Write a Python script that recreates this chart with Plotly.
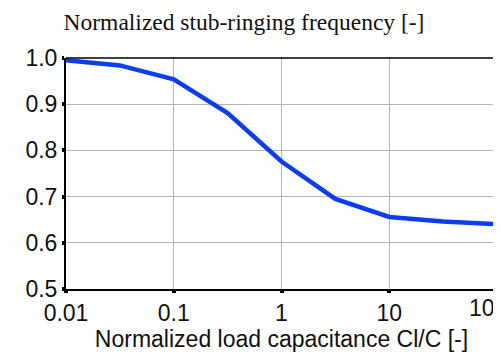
import plotly.graph_objects as go

x_vals = [0.01, 0.0316, 0.1, 0.316, 1, 3.16, 10, 31.6, 100]
y_vals = [0.995, 0.984, 0.954, 0.881, 0.776, 0.695, 0.656, 0.646, 0.640]
x_ticks = [0.01, 0.1, 1, 10, 100]
x_ticktext = ["0.01", "0.1", "1", "10", ""]
last_tick_label = "100"
y_ticks = [0.5, 0.6, 0.7, 0.8, 0.9, 1.0]

fig = go.Figure()
fig.add_trace(go.Scatter(x=x_vals, y=y_vals, mode="lines",
                         line=dict(color="#0a3ef0", width=4.5), showlegend=False))

font_sans = "Liberation Sans"
fig.update_layout(
    width=501, height=355,
    margin=dict(l=58, r=12, t=50, b=74),
    paper_bgcolor="white", plot_bgcolor="white",
    title=dict(text="Normalized stub-ringing frequency [-]",
               font=dict(family="Liberation Serif", size=23.5, color="#111"),
               x=236 / 501, xref="container", xanchor="center",
               y=1 - 14 / 355, yref="container", yanchor="middle"),
    xaxis=dict(type="log", range=[-2, 2], tickvals=x_ticks, ticktext=x_ticktext,
               automargin=False,
               showgrid=True, gridcolor="#b4b4b4", gridwidth=1,
               showline=True, linecolor="black", linewidth=2,
               ticks="outside", ticklen=2, tickwidth=4, tickcolor="black",
               tickfont=dict(family=font_sans, size=23, color="#111"),
               title=dict(text="Normalized load capacitance Cl/C [-]",
                          font=dict(family=font_sans, size=23, color="#111"), standoff=6),
               zeroline=False),
    yaxis=dict(range=[0.5, 1.0], tickvals=y_ticks, tickformat=".1f",
               automargin=False,
               showgrid=True, gridcolor="#b4b4b4", gridwidth=1,
               showline=True, linecolor="black", linewidth=2,
               ticks="outside", ticklen=2, tickwidth=4, tickcolor="black",
               tickfont=dict(family=font_sans, size=23, color="#111"),
               zeroline=False),
    shapes=[
        dict(type="line", xref="paper", yref="paper", x0=0, x1=1, y0=1, y1=1,
             line=dict(color="black", width=1.5)),
        dict(type="line", xref="paper", yref="paper", x0=1, x1=1, y0=0, y1=1,
             line=dict(color="#333", width=1.5)),
    ],
    annotations=[
        dict(text=last_tick_label, xref="paper", x=1, yref="paper", y=0,
             xanchor="center", yanchor="top", xshift=-9, yshift=-4, showarrow=False,
             font=dict(family=font_sans, size=23, color="#111")),
    ],
)

fig.write_html("out.html")
